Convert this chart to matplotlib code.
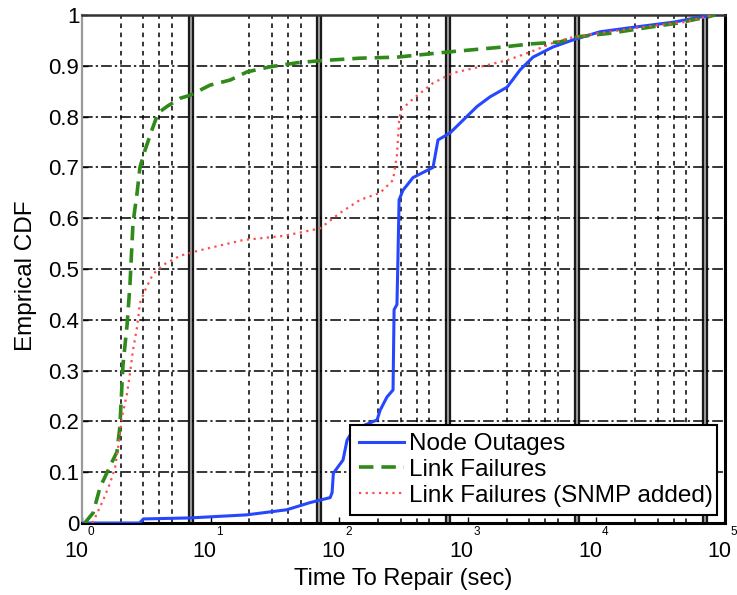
import numpy as np
import matplotlib
matplotlib.use("Agg")
import matplotlib.pyplot as plt
from matplotlib.ticker import NullLocator
from matplotlib.transforms import offset_copy

plt.rcParams['font.family'] = ['Liberation Sans', 'DejaVu Sans']

node_t = [1.0, 2.8, 3.0, 6.9, 19, 39, 59, 85, 88, 90, 107, 115, 128, 197, 208, 235, 262,
          267, 281, 286, 292, 313, 375, 536, 586, 728, 918, 1180, 1490, 2020, 2550, 3210,
          4590, 6580, 10670, 19600, 40100, 64000, 82000]
node_cdf = [0.0, 0.0, 0.008, 0.01, 0.016, 0.026, 0.04, 0.05, 0.06, 0.098, 0.124, 0.163, 0.183,
            0.203, 0.222, 0.248, 0.262, 0.42, 0.43, 0.52, 0.636, 0.655, 0.68, 0.70, 0.754,
            0.768, 0.793, 0.82, 0.839, 0.858, 0.892, 0.917, 0.937, 0.951, 0.967, 0.976,
            0.986, 0.996, 1.0]

link_t = [1.05, 1.22, 1.38, 1.74, 1.87, 1.97, 2.08, 2.24, 2.36, 2.49, 2.68, 2.82, 3.09, 3.50,
          3.90, 4.58, 5.78, 6.92, 9.9, 14.2, 19.2, 29, 47, 71, 145, 281, 689, 1880, 3050,
          5210, 7060, 12760, 23000, 42400, 72400, 83600]
link_cdf = [0.0, 0.02, 0.07, 0.124, 0.14, 0.19, 0.31, 0.39, 0.47, 0.59, 0.65, 0.70, 0.734,
            0.774, 0.807, 0.82, 0.836, 0.842, 0.862, 0.872, 0.888, 0.898, 0.906, 0.91, 0.915,
            0.917, 0.927, 0.937, 0.943, 0.947, 0.957, 0.964, 0.974, 0.984, 0.996, 1.0]

snmp_t = [1.2, 1.26, 1.46, 1.65, 1.81, 1.91, 2.05, 2.24, 2.36, 2.49, 2.68, 2.82, 3.09, 3.56,
          4.42, 5.78, 8.28, 17.9, 36.6, 71, 101, 145, 208, 262, 281, 292, 302, 375, 536,
          767, 1245, 2020, 3050, 4590, 6700, 19600, 48000, 82000]
snmp_cdf = [0.0, 0.01, 0.045, 0.078, 0.11, 0.15, 0.21, 0.255, 0.295, 0.34, 0.386, 0.433,
            0.458, 0.49, 0.51, 0.526, 0.537, 0.557, 0.565, 0.58, 0.61, 0.636, 0.65, 0.675,
            0.725, 0.79, 0.813, 0.835, 0.866, 0.886, 0.898, 0.911, 0.927, 0.945, 0.957,
            0.974, 0.986, 1.0]

decadas = [0, 1, 2, 3, 4, 5]
yticks = [0, 0.1, 0.2, 0.3, 0.4, 0.5, 0.6, 0.7, 0.8, 0.9, 1]
ytick_labels = ['0', '0.1', '0.2', '0.3', '0.4', '0.5', '0.6', '0.7', '0.8', '0.9', '1']

fig = plt.figure(figsize=(7.37, 5.95), dpi=100)
ax = fig.add_axes([0.1113, 0.121, 0.8725, 0.8538])
ax.set_xscale('log')
ax.set_xlim(1, 1e5)
ax.set_ylim(0, 1)

# grade (estilo matlab escaneado)
for k in decadas[:-1]:
    for m in [2, 3, 4, 5]:
        ax.axvline(m * 10**k, color='k', ls=(0, (3, 3)), lw=1.1, zorder=1)
    ax.axvline(7 * 10**k, color='#1a1a1a', lw=4.5, zorder=1)
    ax.axvline(7 * 10**k, color='#9a9a9a', lw=1.4, zorder=1.1)
for y in yticks[1:-1]:
    ax.axhline(y, color='k', ls=(0, (7, 2, 1.5, 2)), lw=1.1, zorder=1)

ax.plot(node_t, node_cdf, color='#2747ff', lw=2.2, label='Node Outages', zorder=3)
ax.plot(link_t, link_cdf, color='#2f8a1a', lw=2.6, ls=(0, (4, 2.2)), label='Link Failures', zorder=3)
ax.plot(snmp_t, snmp_cdf, color='#ff4d4d', lw=1.6, ls=(0, (1, 2)), label='Link Failures (SNMP added)', zorder=3)

ax.set_yticks(yticks)
ax.set_yticklabels(ytick_labels, fontsize=16)
ax.set_xticks([10.0**d for d in decadas])
ax.set_xticklabels([''] * len(decadas))
ax.xaxis.set_minor_locator(NullLocator())
ax.tick_params(direction='in', length=4, width=1, pad=2)

# rotulos 10^k no estilo do matlab
tr = ax.get_xaxis_transform()
for d in decadas:
    base = offset_copy(tr, fig=fig, x=-6, y=0, units='dots')
    ax.text(10.0**d, -0.057, '10', transform=base, ha='center', va='center', fontsize=15.5)
    expo = offset_copy(tr, fig=fig, x=9, y=0, units='dots')
    ax.text(10.0**d, -0.018, str(d), transform=expo, ha='center', va='center', fontsize=8.5)

ax.set_xlabel('Time To Repair (sec)', fontsize=17)
ax.xaxis.set_label_coords(0.5, -0.088)
ax.set_ylabel('Emprical CDF', fontsize=17.5)
ax.yaxis.set_label_coords(-0.07, 0.486)

for lado, cor, lw in [('left', '#9a9a9a', 1.6), ('bottom', 'k', 2.2), ('top', '#333333', 1.8), ('right', 'k', 2.2)]:
    ax.spines[lado].set_color(cor)
    ax.spines[lado].set_linewidth(lw)

leg = ax.legend(loc='lower left', bbox_to_anchor=(0.417, 0.0157, 0.571, 0.181), mode='expand',
                borderaxespad=0, fontsize=17.5, handlelength=1.85, handletextpad=0.2,
                labelspacing=0.15, fancybox=False, framealpha=1, edgecolor='k', borderpad=0.35)
leg.get_frame().set_linewidth(1.5)

plt.savefig('out.png', dpi=100)
